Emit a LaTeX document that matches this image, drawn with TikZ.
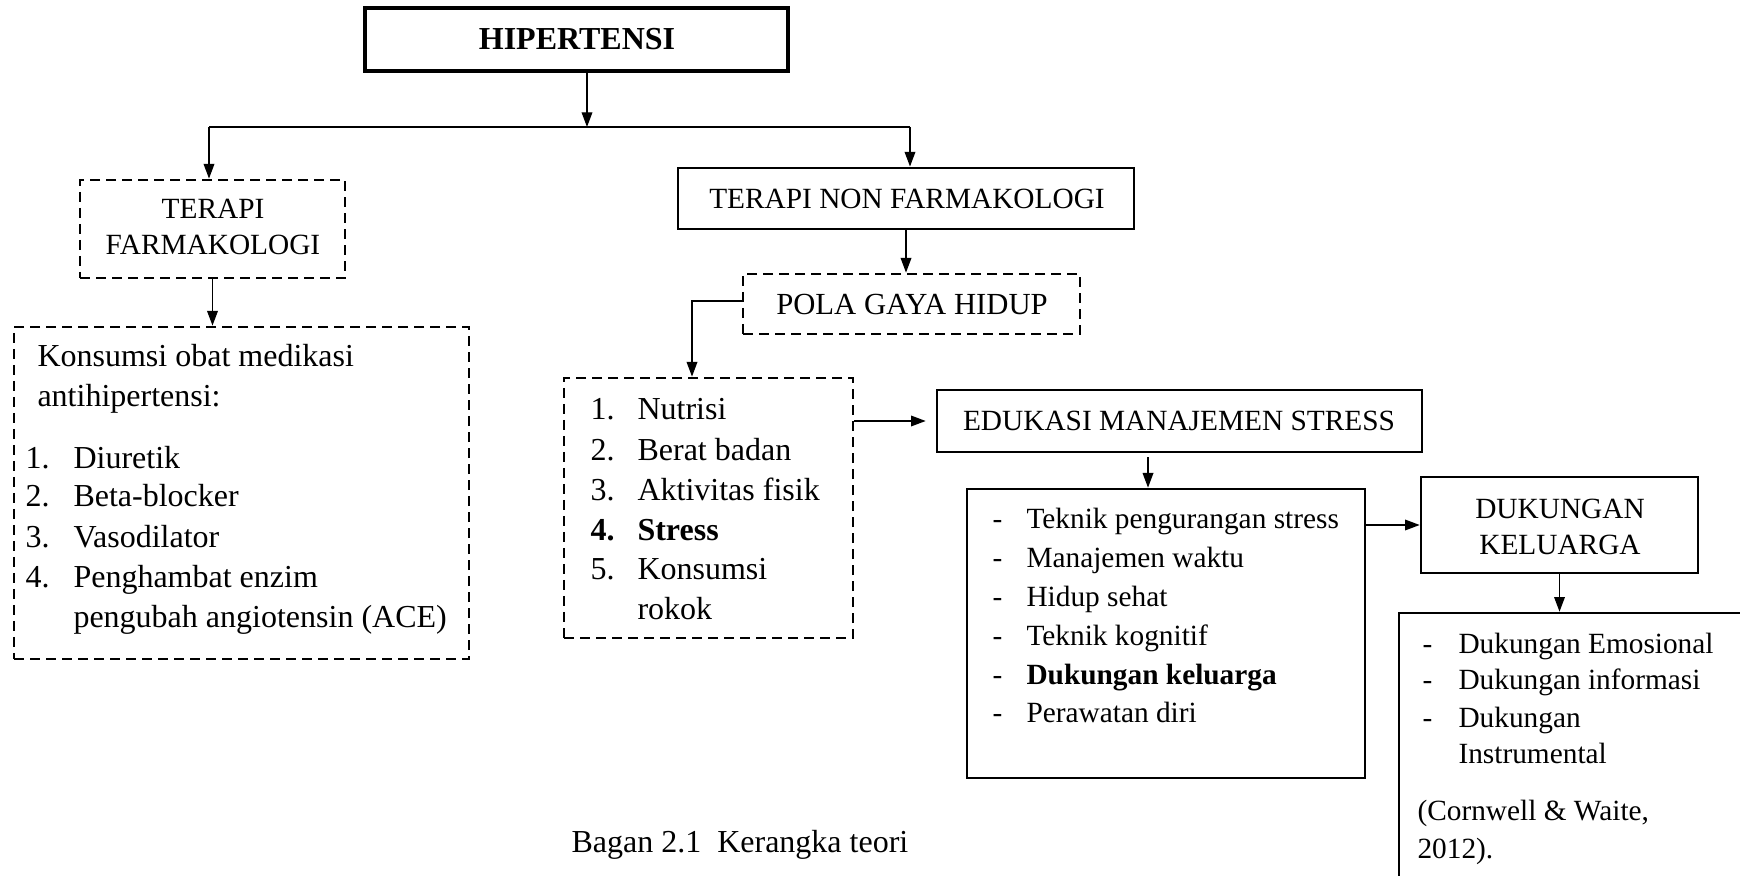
\documentclass[tikz,border=0pt]{standalone}
\usepackage{fontspec}
\setmainfont{Liberation Serif}
\usetikzlibrary{arrows.meta,fit}
\begin{document}
\begin{tikzpicture}[x=0.375pt,y=-0.375pt,
  solidbox/.style={draw, line width=1pt, inner sep=0pt},
  dashbox/.style={draw, line width=1.05pt, dash pattern=on 3.6pt off 2.4pt, inner sep=0pt},
  conn/.style={line width=0.5pt},
  arr/.style={conn, -{Triangle[length=5.5pt,width=4pt]}},
  big/.style={font=\fontsize{12}{15}\selectfont},
  mid/.style={font=\fontsize{11.5}{14}\selectfont},
  small/.style={font=\fontsize{11}{13.4}\selectfont},
  txt/.style={anchor=base west, inner sep=0pt},
]
\useasboundingbox (0,0) rectangle (1740,876);
\begin{scope}
\clip (0,0) rectangle (1740,876);
% boxes
\node[solidbox, line width=1.2pt, fit={(365,8) (788,71)}] (hip) {};
\node[dashbox, fit={(80,180) (345,278)}] (tf) {};
\node[solidbox, line width=1.1pt, fit={(678,168) (1134,229)}] (tnf) {};
\node[dashbox, fit={(743,274) (1080,334)}] (pola) {};
\node[dashbox, fit={(14,327) (469,659)}] (obat) {};
\node[dashbox, fit={(564,378) (853,638)}] (faktor) {};
\node[solidbox, fit={(937,390) (1422,452)}] (edu) {};
\node[solidbox, fit={(967,489) (1365,778)}] (teknik) {};
\node[solidbox, fit={(1421,477) (1698,573)}] (duk) {};
\node[solidbox, fit={(1399,613) (1770,910)}] (dukjenis) {};

% box titles
\node[txt, big, anchor=base] (hipt) at (577,50) {\textbf{HIPERTENSI}};
\node[txt, small, anchor=base] (tft1) at (213,219) {TERAPI};
\node[txt, small, anchor=base] (tft2) at (213,255) {FARMAKOLOGI};
\node[txt, small, anchor=base] (tnft) at (907,209) {TERAPI NON FARMAKOLOGI};
\node[txt, mid, anchor=base] (polat) at (912,315) {POLA GAYA HIDUP};
\node[txt, small, anchor=base] (edut) at (1179,431) {EDUKASI MANAJEMEN STRESS};
\node[txt, small, anchor=base] (dukt1) at (1560,518) {DUKUNGAN};
\node[txt, small, anchor=base] (dukt2) at (1560,554) {KELUARGA};

% left box text
\node[txt, big] (o0) at (37,367) {Konsumsi obat medikasi};
\node[txt, big] (o1) at (37,407) {antihipertensi:};
\node[txt, big] (on1) at (25,468) {1.};
\node[txt, big] (on2) at (25,507) {2.};
\node[txt, big] (on3) at (25,547) {3.};
\node[txt, big] (on4) at (25,587) {4.};
\node[txt, big] (ot1) at (73,468) {Diuretik};
\node[txt, big] (ot2) at (73,507) {Beta-blocker};
\node[txt, big] (ot3) at (73,547) {Vasodilator};
\node[txt, big] (ot4) at (73,587) {Penghambat enzim};
\node[txt, big] (ot5) at (73,627) {pengubah angiotensin (ACE)};

% factor list text
\node[txt, big] (fn1) at (590,420) {1.};
\node[txt, big] (fn2) at (590,460) {2.};
\node[txt, big] (fn3) at (590,500) {3.};
\node[txt, big] (fn4) at (590,540) {\textbf{4.}};
\node[txt, big] (fn5) at (590,579) {5.};
\node[txt, big] (ft1) at (637,420) {Nutrisi};
\node[txt, big] (ft2) at (637,460) {Berat badan};
\node[txt, big] (ft3) at (637,500) {Aktivitas fisik};
\node[txt, big] (ft4) at (637,540) {\textbf{Stress}};
\node[txt, big] (ft5) at (637,579) {Konsumsi};
\node[txt, big] (ft6) at (637,619) {rokok};

% teknik text
\node[txt, small] (td1) at (992,529) {-};
\node[txt, small] (td2) at (992,567) {-};
\node[txt, small] (td3) at (992,606) {-};
\node[txt, small] (td4) at (992,645) {-};
\node[txt, small] (td5) at (992,684) {-};
\node[txt, small] (td6) at (992,722) {-};
\node[txt, small] (tt1) at (1026,529) {Teknik pengurangan stress};
\node[txt, small] (tt2) at (1026,567) {Manajemen waktu};
\node[txt, small] (tt3) at (1026,606) {Hidup sehat};
\node[txt, small] (tt4) at (1026,645) {Teknik kognitif};
\node[txt, small] (tt5) at (1026,684) {\textbf{Dukungan keluarga}};
\node[txt, small] (tt6) at (1026,722) {Perawatan diri};

% dukungan list text
\node[txt, small] (dd1) at (1422,653) {-};
\node[txt, small] (dd2) at (1422,689) {-};
\node[txt, small] (dd3) at (1422,727) {-};
\node[txt, small] (dt1) at (1458,653) {Dukungan Emosional};
\node[txt, small] (dt2) at (1458,689) {Dukungan informasi};
\node[txt, small] (dt3) at (1458,727) {Dukungan};
\node[txt, small] (dt4) at (1458,763) {Instrumental};
\node[txt, small] (dr1) at (1417,820) {(Cornwell \& Waite,};
\node[txt, small] (dr2) at (1417,858) {2012).};

% caption
\node[txt, big] (cap) at (571,852) {Bagan 2.1\hspace{0.5em}Kerangka teori};

% connectors
\coordinate (jl) at (209,127);
\coordinate (jm) at (587,127);
\coordinate (jr) at (910,127);
\draw[arr] (hip.south -| jm) -- (jm);
\draw[conn] (jl) -- (jr);
\draw[arr] (jl) -- (jl |- tf.north);
\draw[arr] (jr) -- (jr |- tnf.north);
\draw[arr] (tnf.south) -- (tnf.south |- pola.north);
\draw[arr] (tf.south) -- (tf.south |- obat.north);
\coordinate (pl) at (692,301);
\draw[arr] (pola.west |- pl) -- (pl) -- (pl |- faktor.north);
\draw[arr, shorten >=3.75pt] (faktor.east |- edu.west) -- (edu.west);
\coordinate (ex) at (1148,0);
\draw[arr, shorten <=1.5pt] (edu.south -| ex) -- (teknik.north -| ex);
\draw[arr] (teknik.east |- duk.west) -- (duk.west);
\draw[arr] (duk.south) -- (duk.south |- dukjenis.north);
\end{scope}
\end{tikzpicture}
\end{document}
